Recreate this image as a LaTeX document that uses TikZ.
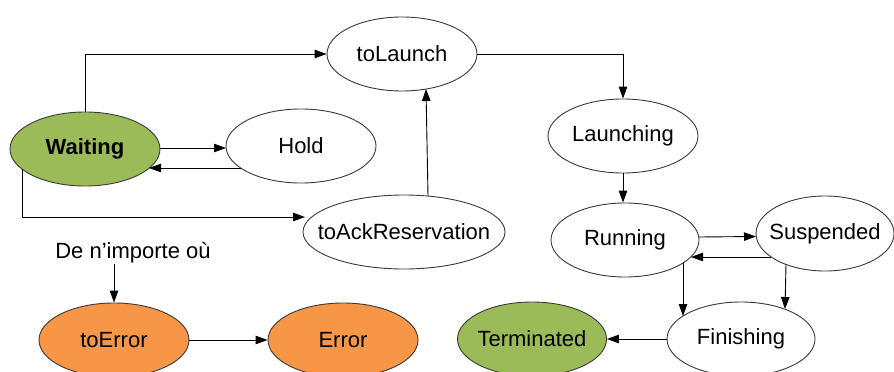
\documentclass[tikz,border=0pt]{standalone}
\usepackage{fontspec}
\setmainfont{Liberation Sans}
\usetikzlibrary{shapes.geometric,arrows.meta,calc}
\definecolor{stgreen}{HTML}{9BBB59}
\definecolor{storange}{HTML}{F79646}
\definecolor{stborder}{HTML}{3A3A3A}
\begin{document}
\begin{tikzpicture}[x=1pt,y=-1pt,
  state/.style={ellipse,draw=stborder,line width=0.9pt,inner ysep=0pt,inner xsep=-25pt,
    minimum width=150pt,minimum height=74pt,font=\fontsize{22}{26}\selectfont},
  conn/.style={draw=black,line width=0.9pt,-{Triangle[length=12pt,width=8.5pt]}}]
\useasboundingbox[fill=white] (0,0) rectangle (894,372);
% nodes
\node[state,fill=stgreen,font=\fontsize{22}{26}\selectfont\bfseries] (W) at (85,149) {Waiting};
\node[state] (H) at (301,146) {Hold};
\node[state] (TL) at (402,54) {toLaunch};
\node[state,minimum width=202pt] (TA) at (404,232) {toAckReservation};
\node[state] (L) at (623,136) {Launching};
\node[state,minimum width=148pt] (R) at (625,240) {Running};
\node[state,minimum width=138pt,minimum height=75pt] (S) at (825,233.5) {Suspended};
\node[state,minimum width=148pt] (F) at (741,339) {Finishing};
\node[state,fill=stgreen,minimum width=149pt] (T) at (532,339) {Terminated};
\node[state,fill=storange] (E1) at (114,340) {toError};
\node[state,fill=storange] (E2) at (343,340) {Error};
\node[inner sep=0pt,font=\fontsize{22}{26}\selectfont] (any) at (133,253) {De n’importe où};
% connectors
\draw[conn] (W.north) |- (TL.west);
\draw[conn] ($(W.center)+(75,-1)$) -- ($(H.center)+(-75,2)$);
\draw[conn] ($(H.center)+(-60,22)$) -- ($(W.center)+(64,19)$);
\draw[conn] ($(W.center)+(-63,20)$) |- ($(TA.center)+(-99,-15)$);
\draw[conn] ($(TA.center)+(24,-36)$) -- ($(TL.center)+(24,35)$);
\draw[conn] (TL.east) -| (L.north);
\draw[conn] (L.south) -- (R.north -| L.south);
\draw[conn] ($(R.center)+(74,-3)$) -- ($(S.center)+(-69,3)$);
\draw[conn] ($(S.center)+(-54,23.5)$) -- ($(R.center)+(66,17)$);
\draw[conn] ($(R.center)+(58,23)$) -- ($(F.center)+(-58,-23)$);
\draw[conn] ($(S.center)+(-39,31)$) -- ($(F.center)+(44,-30)$);
\draw[conn] (F.west) -- (T.east);
\draw[conn] (E1.east) -- (E2.west);
\draw[conn] (any.south -| E1.north) -- (E1.north);
\end{tikzpicture}
\end{document}
